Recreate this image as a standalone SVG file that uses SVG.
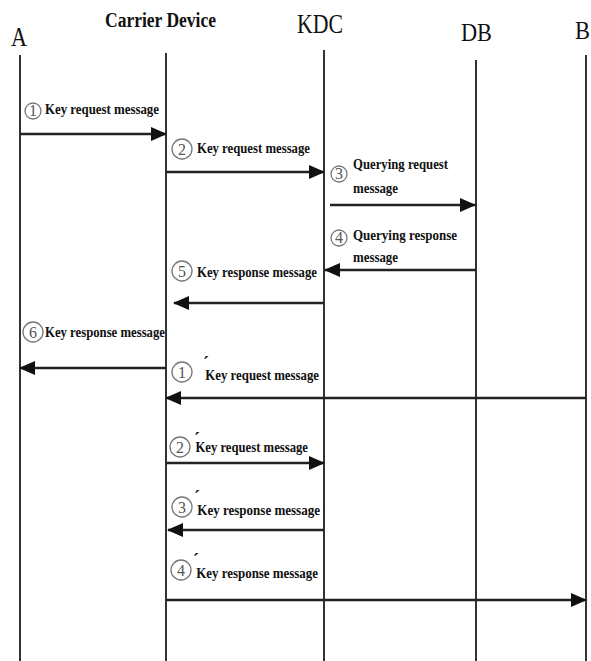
<svg xmlns="http://www.w3.org/2000/svg" width="591" height="661" viewBox="0 0 591 661">
<style>
.hdr{font-family:"Liberation Serif",serif;fill:#111}
.life{stroke:#333;stroke-width:2;fill:none}
.msg{stroke:#222;stroke-width:2.5;fill:none}
.lbl{font-family:"Liberation Serif",serif;font-weight:bold;font-size:14.5px;fill:#111}
.num circle{fill:none;stroke:#777;stroke-width:1.3}
.num text{font-family:"Liberation Serif",serif;font-size:16px;fill:#555;text-anchor:middle}
.pr{font-weight:bold;font-size:20px}
</style>
<defs>
<marker id="ah" markerUnits="userSpaceOnUse" markerWidth="16" markerHeight="16" viewBox="0 0 16 16" refX="15" refY="8" orient="auto">
<path d="M0,1 L16,8 L0,15 Z" fill="#111"/>
</marker>
</defs>
<rect width="591" height="661" fill="#fff"/>
<g id="lifelines">
<g id="A"><text class="hdr" x="11" y="46" font-size="27" textLength="16" lengthAdjust="spacingAndGlyphs">A</text><line class="life" x1="20" y1="55" x2="20" y2="661"/></g>
<g id="CarrierDevice"><text class="hdr" x="105" y="27" font-size="20" font-weight="bold" textLength="111" lengthAdjust="spacingAndGlyphs">Carrier Device</text><line class="life" x1="166" y1="53" x2="166" y2="661"/></g>
<g id="KDC"><text class="hdr" x="297" y="33" font-size="27" textLength="46" lengthAdjust="spacingAndGlyphs">KDC</text><line class="life" x1="324" y1="50" x2="324" y2="661"/></g>
<g id="DB"><text class="hdr" x="461" y="41" font-size="26" textLength="31" lengthAdjust="spacingAndGlyphs">DB</text><line class="life" x1="476" y1="60" x2="476" y2="661"/></g>
<g id="B"><text class="hdr" x="575" y="39" font-size="26" textLength="15" lengthAdjust="spacingAndGlyphs">B</text><line class="life" x1="586" y1="55" x2="586" y2="661"/></g>
</g>
<g id="connectors">
<line class="msg" x1="20" y1="134" x2="166" y2="134" marker-end="url(#ah)"/>
<line class="msg" x1="166" y1="172" x2="324" y2="172" marker-end="url(#ah)"/>
<line class="msg" x1="330" y1="205" x2="475" y2="205" marker-end="url(#ah)"/>
<line class="msg" x1="476" y1="270" x2="325" y2="270" marker-end="url(#ah)"/>
<line class="msg" x1="324" y1="303" x2="174" y2="303" marker-end="url(#ah)"/>
<line class="msg" x1="166" y1="368" x2="20" y2="368" marker-end="url(#ah)"/>
<line class="msg" x1="586" y1="398" x2="166" y2="398" marker-end="url(#ah)"/>
<line class="msg" x1="166" y1="463" x2="324" y2="463" marker-end="url(#ah)"/>
<line class="msg" x1="324" y1="530" x2="168" y2="530" marker-end="url(#ah)"/>
<line class="msg" x1="166" y1="600" x2="586" y2="600" marker-end="url(#ah)"/>
</g>
<g id="labels">
<g id="m1"><g class="num"><circle cx="33" cy="111" r="8"/><text x="33" y="116" font-size="13">1</text></g><text class="lbl" x="45" y="114" textLength="114" lengthAdjust="spacingAndGlyphs">Key request message</text></g>
<g id="m2"><g class="num"><circle cx="182" cy="149" r="10"/><text x="182" y="155">2</text></g><text class="lbl" x="197" y="153" textLength="113" lengthAdjust="spacingAndGlyphs">Key request message</text></g>
<g id="m3"><g class="num"><circle cx="339" cy="174" r="8"/><text x="339" y="179" font-size="13">3</text></g><text class="lbl" x="353" y="169" textLength="95" lengthAdjust="spacingAndGlyphs">Querying request</text><text class="lbl" x="353" y="193" textLength="45" lengthAdjust="spacingAndGlyphs">message</text></g>
<g id="m4"><g class="num"><circle cx="339" cy="238" r="8"/><text x="339" y="243" font-size="13">4</text></g><text class="lbl" x="353" y="240" textLength="104" lengthAdjust="spacingAndGlyphs">Querying response</text><text class="lbl" x="353" y="262" textLength="45" lengthAdjust="spacingAndGlyphs">message</text></g>
<g id="m5"><g class="num"><circle cx="182" cy="271" r="10"/><text x="182" y="277">5</text></g><text class="lbl" x="197" y="277" textLength="120" lengthAdjust="spacingAndGlyphs">Key response message</text></g>
<g id="m6"><g class="num"><circle cx="33" cy="332" r="10"/><text x="33" y="338">6</text></g><text class="lbl" x="45" y="337" textLength="120" lengthAdjust="spacingAndGlyphs">Key response message</text></g>
<g id="m1p"><g class="num"><circle cx="182" cy="372" r="10"/><text x="182" y="378">1</text></g><text class="lbl" x="203" y="380" textLength="116" lengthAdjust="spacingAndGlyphs"><tspan class="pr" dy="-9">´</tspan><tspan dx="-4" dy="9">Key request message</tspan></text></g>
<g id="m2p"><g class="num"><circle cx="180" cy="447" r="10"/><text x="180" y="453">2</text></g><text class="lbl" x="194" y="452" textLength="114" lengthAdjust="spacingAndGlyphs"><tspan class="pr" dy="-5">´</tspan><tspan dx="-5" dy="5">Key request message</tspan></text></g>
<g id="m3p"><g class="num"><circle cx="182" cy="507" r="10"/><text x="182" y="513">3</text></g><text class="lbl" x="194" y="515" textLength="126" lengthAdjust="spacingAndGlyphs"><tspan class="pr" dy="-10">´</tspan><tspan dx="-3" dy="10">Key response message</tspan></text></g>
<g id="m4p"><g class="num"><circle cx="181" cy="570" r="10"/><text x="181" y="576">4</text></g><text class="lbl" x="193" y="578" textLength="125" lengthAdjust="spacingAndGlyphs"><tspan class="pr" dy="-10">´</tspan><tspan dx="-3" dy="10">Key response message</tspan></text></g>
</g>
</svg>
